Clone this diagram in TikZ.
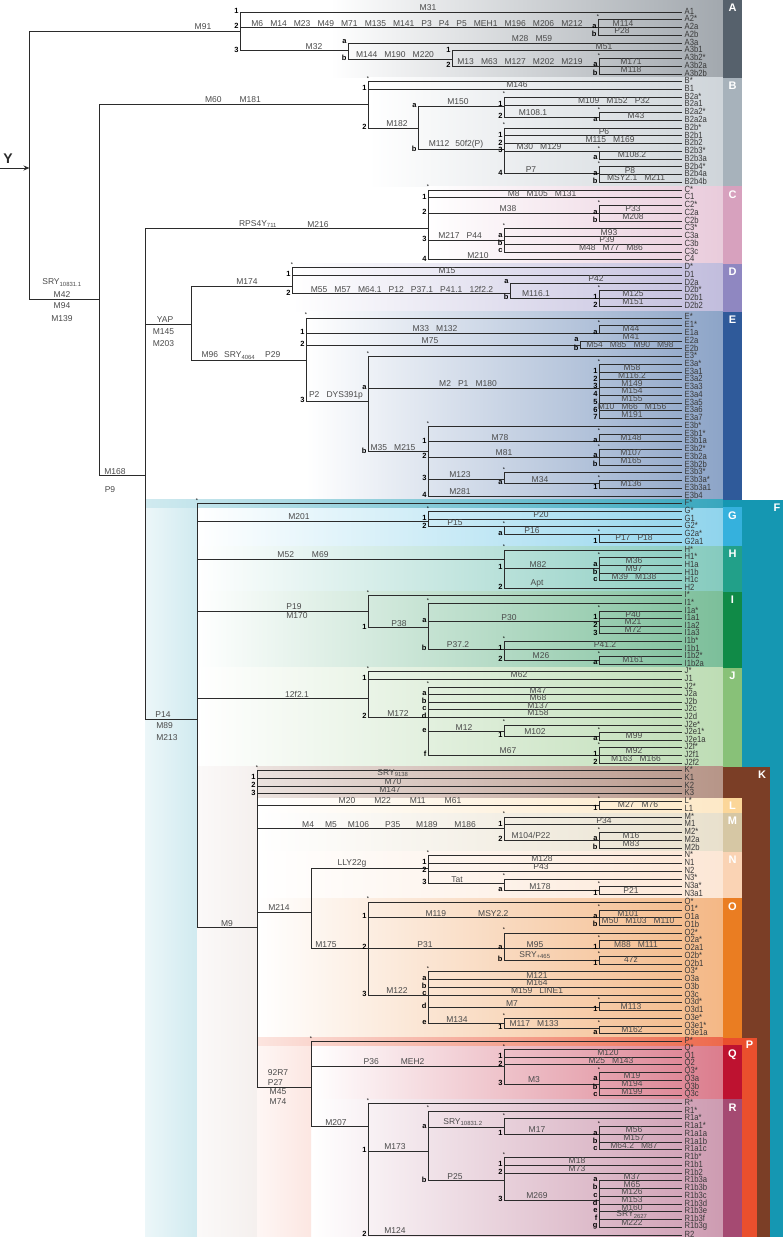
\documentclass[tikz,border=0pt]{standalone}
\usepackage{fontspec}
\setmainfont{Liberation Sans}
\newfontfamily\leaffont[FakeStretch=0.85]{Liberation Sans}
\newfontfamily\mutfont[WordSpace=3]{Liberation Sans}
\usepackage{tikz}
\usetikzlibrary{arrows.meta}
\definecolor{linegray}{HTML}{2B2B2B}
\definecolor{mutgray}{HTML}{4A4A4A}
\definecolor{leafgray}{HTML}{383838}
\definecolor{cladeA}{HTML}{56616C}
\definecolor{cladeB}{HTML}{A7B2BB}
\definecolor{cladeC}{HTML}{D7A1BE}
\definecolor{cladeD}{HTML}{8F87C1}
\definecolor{cladeE}{HTML}{2F5A9A}
\definecolor{cladeF}{HTML}{1597B2}
\definecolor{cladeG}{HTML}{35B1DD}
\definecolor{cladeH}{HTML}{22A089}
\definecolor{cladeI}{HTML}{108A47}
\definecolor{cladeJ}{HTML}{88C178}
\definecolor{cladeK}{HTML}{7B3E26}
\definecolor{cladeL}{HTML}{FBD699}
\definecolor{cladeM}{HTML}{D6C7A4}
\definecolor{cladeN}{HTML}{FAD3B4}
\definecolor{cladeO}{HTML}{EA7D22}
\definecolor{cladeP}{HTML}{EA4F2D}
\definecolor{cladeQ}{HTML}{BE1230}
\definecolor{cladeR}{HTML}{A54A72}

\tikzset{
  treeline/.style={draw=linegray, line width=0.7pt},
  leaf/.style={anchor=west, inner xsep=2.5pt, inner ysep=0pt, text=leafgray,
    font=\leaffont\fontsize{9}{9}\selectfont},
  mut/.style 2 args={pos=1, anchor=south, inner xsep=0pt, inner ysep=1pt, xshift=#1-#2,
    align=center, text=mutgray, font=\mutfont\fontsize{8.5}{10}\selectfont},
  mutb/.style 2 args={mut={#1}{#2}, anchor=north},
  ml/.style={mut={#1}{682}},
  num/.style={pos=0.5, anchor=east, inner xsep=1.2pt, inner ysep=0pt, yshift=1.2pt,
    font=\bfseries\fontsize{7.5}{8}\selectfont},
  astx/.style={pos=0.5, anchor=south, inner sep=0.3pt, yshift=0.5pt,
    font=\fontsize{5.5}{6}\selectfont},
  blockletter/.style={anchor=north, inner sep=0pt, text=white,
    font=\bfseries\fontsize{11}{11}\selectfont}
}
\newcommand{\cladeband}[4]{\shade[left color=white, right color=#1!55] (#2,{ly(#3)}) rectangle (723,{ly(#4)});}
\newcommand{\cladeblock}[4]{\fill[#1] (723,{ly(#2)}) rectangle (742,{ly(#3)});
  \node[blockletter] (b#4) at (732.5,{ly(#2)+4}) {#4};}

\begin{document}
\begin{tikzpicture}[x=1pt, y=-1pt,
    declare function={ly(\k)=12+7.74*\k+4*min(1,max(0,\k-38))-4*min(1,max(0,(\k-70)/28));}]
  \useasboundingbox (0,0) rectangle (783,1237);

  % colour bands behind the clades
  \cladeband{cladeA}{330}{-1.55}{8.5}
  \cladeband{cladeB}{368}{8.5}{22.5}
  \cladeband{cladeC}{428}{22.5}{32.5}
  \cladeband{cladeD}{292}{32.5}{38.5}
  \cladeband{cladeE}{306}{38.5}{62.5}
  \cladeband{cladeG}{197}{63.5}{68.5}
  \cladeband{cladeH}{197}{68.5}{74.5}
  \cladeband{cladeI}{197}{74.5}{84.5}
  \cladeband{cladeJ}{197}{84.5}{97.5}
  \cladeband{cladeL}{257}{101.5}{103.5}
  \cladeband{cladeM}{257}{103.5}{108.5}
  \cladeband{cladeN}{257}{108.5}{114.5}
  \cladeband{cladeO}{257}{114.5}{132.5}
  \cladeband{cladeQ}{311}{133.5}{140.5}
  \cladeband{cladeR}{311}{140.5}{158.27}
  \shade[left color=cladeF!8, right color=cladeF!20] (145,{ly(62.5)}) rectangle (197,1237);
  \shade[left color=cladeK!3, right color=cladeK!8] (197,{ly(97.5)}) rectangle (257,1237);
  \shade[left color=cladeP!5, right color=cladeP!14] (257,{ly(132.5)}) rectangle (311,1237);
  \shade[left color=cladeF!20, right color=cladeF!85] (145,{ly(62.5)}) rectangle (723,{ly(63.5)});
  \shade[left color=cladeK!15, right color=cladeK!55] (257,{ly(97.5)}) rectangle (723,{ly(101.5)});
  \shade[left color=cladeP!15, right color=cladeP!85] (257,{ly(132.5)}) rectangle (723,{ly(133.5)});

  % haplogroup blocks on the right
  \cladeblock{cladeA}{-1.55}{8.5}{A}
  \cladeblock{cladeB}{8.5}{22.5}{B}
  \cladeblock{cladeC}{22.5}{32.5}{C}
  \cladeblock{cladeD}{32.5}{38.5}{D}
  \cladeblock{cladeE}{38.5}{62.5}{E}
  \fill[cladeF] (723,{ly(62.5)}) rectangle (783,{ly(63.5)});
  \fill[cladeF] (742,{ly(62.5)}) rectangle (783,1237);
  \node[blockletter] (bF) at (777,{ly(62.5)+4}) {F};
  \cladeblock{cladeG}{63.5}{68.5}{G}
  \cladeblock{cladeH}{68.5}{74.5}{H}
  \cladeblock{cladeI}{74.5}{84.5}{I}
  \cladeblock{cladeJ}{84.5}{97.5}{J}
  \fill[cladeK] (723,{ly(97.5)}) rectangle (770,{ly(101.5)});
  \fill[cladeK] (742,{ly(97.5)}) rectangle (770,1237);
  \node[blockletter] (bK) at (762,{ly(97.5)+4}) {K};
  \cladeblock{cladeL}{101.5}{103.5}{L}
  \cladeblock{cladeM}{103.5}{108.5}{M}
  \cladeblock{cladeN}{108.5}{114.5}{N}
  \cladeblock{cladeO}{114.5}{132.5}{O}
  \fill[cladeP] (723,{ly(132.5)}) rectangle (757,{ly(133.5)});
  \fill[cladeP] (742,{ly(132.5)}) rectangle (757,1237);
  \node[blockletter] (bP) at (749.5,{ly(132.5)+3}) {P};
  \cladeblock{cladeQ}{133.5}{140.5}{Q}
  \cladeblock{cladeR}{140.5}{158.27}{R}

  % leaves
  \foreach \t [count=\i from 0] in {A1,A2*,A2a,A2b,A3a,A3b1,A3b2*,A3b2a,A3b2b,
      B*,B1,B2a*,B2a1,B2a2*,B2a2a,B2b*,B2b1,B2b2,B2b3*,B2b3a,B2b4*,B2b4a,B2b4b,
      C*,C1,C2*,C2a,C2b,C3*,C3a,C3b,C3c,C4,
      D*,D1,D2a,D2b*,D2b1,D2b2,
      E*,E1*,E1a,E2a,E2b,E3*,E3a*,E3a1,E3a2,E3a3,E3a4,E3a5,E3a6,E3a7,
      E3b*,E3b1*,E3b1a,E3b2*,E3b2a,E3b2b,E3b3*,E3b3a*,E3b3a1,E3b4,
      F*,G*,G1,G2*,G2a*,G2a1,H*,H1*,H1a,H1b,H1c,H2,
      I*,I1*,I1a*,I1a1,I1a2,I1a3,I1b*,I1b1,I1b2*,I1b2a,
      J*,J1,J2*,J2a,J2b,J2c,J2d,J2e*,J2e1*,J2e1a,J2f*,J2f1,J2f2,
      K*,K1,K2,K3,L*,L1,M*,M1,M2*,M2a,M2b,N*,N1,N2,N3*,N3a*,N3a1,
      O*,O1*,O1a,O1b,O2*,O2a*,O2a1,O2b*,O2b1,O3*,O3a,O3b,O3c,O3d*,O3d1,O3e*,O3e1*,O3e1a,
      P*,Q*,Q1,Q2,Q3*,Q3a,Q3b,Q3c,
      R*,R1*,R1a*,R1a1*,R1a1a,R1a1b,R1a1c,R1b*,R1b1,R1b2,
      R1b3a,R1b3b,R1b3c,R1b3d,R1b3e,R1b3f,R1b3g,R2}
  {
    \coordinate (L\i) at (682,{ly(\i)});
    \node[leaf] (t\i) at ([yshift=1pt]L\i) {\t};
  }

  % branching points
  \coordinate (root) at (29.5,168);
  \coordinate (ystart) at (0,168);
  \coordinate (nA) at (240,{ly(2.5)});
  \coordinate (nA2) at (598,{ly(2)});
  \coordinate (nA3) at (348,{ly(5)});
  \coordinate (nA3b) at (452,{ly(6.1)});
  \coordinate (nA3b2) at (599,{ly(7)});
  \coordinate (nBT) at (99.5,{ly(37.1)});
  \coordinate (nB) at (368,{ly(11.9)});
  \coordinate (nB2) at (418,{ly(15)});
  \coordinate (nB2a) at (504,{ly(12.2)});
  \coordinate (nB2a2) at (599,{ly(13.6)});
  \coordinate (nB2b) at (504,{ly(17.8)});
  \coordinate (nB2b3) at (599,{ly(18)});
  \coordinate (nB2b4) at (599,{ly(20.9)});
  \coordinate (nCT) at (145,{ly(59.4)});
  \coordinate (nC) at (428,{ly(28)});
  \coordinate (nC2) at (599,{ly(26)});
  \coordinate (nC3) at (504,{ly(29.5)});
  \coordinate (nDE) at (191.5,{ly(39.8)});
  \coordinate (nD) at (292,{ly(35.4)});
  \coordinate (nD2) at (510,{ly(36.4)});
  \coordinate (nD2b) at (599,{ly(37)});
  \coordinate (nE) at (306,{ly(44.5)});
  \coordinate (nE1) at (599,{ly(41)});
  \coordinate (nE2) at (580,{ly(42.5)});
  \coordinate (nE3) at (368,{ly(49.75)});
  \coordinate (nE3a) at (599,{ly(48.1)});
  \coordinate (nE3b) at (428,{ly(56.3)});
  \coordinate (nE3b1) at (599,{ly(55)});
  \coordinate (nE3b2) at (599,{ly(57)});
  \coordinate (nE3b3) at (504,{ly(59.8)});
  \coordinate (nE3b3a) at (599,{ly(60.4)});
  \coordinate (nF) at (197,{ly(91.2)});
  \coordinate (nG) at (428,{ly(65.3)});
  \coordinate (nG2) at (504,{ly(66)});
  \coordinate (nG2a) at (599,{ly(67)});
  \coordinate (nH) at (504,{ly(70.2)});
  \coordinate (nH1) at (599,{ly(71.4)});
  \coordinate (nI) at (368,{ly(77)});
  \coordinate (nI1) at (428,{ly(79.2)});
  \coordinate (nI1a) at (599,{ly(78.4)});
  \coordinate (nI1b) at (504,{ly(82)});
  \coordinate (nI1b2) at (599,{ly(83.5)});
  \coordinate (nJ) at (368,{ly(88.5)});
  \coordinate (nJ2) at (428,{ly(91)});
  \coordinate (nJ2e) at (504,{ly(92.9)});
  \coordinate (nJ2e1) at (599,{ly(93.5)});
  \coordinate (nJ2f) at (599,{ly(96)});
  \coordinate (nK) at (257,{ly(118.3)});
  \coordinate (nL) at (599,{ly(102.5)});
  \coordinate (nM) at (504,{ly(105.5)});
  \coordinate (nM2) at (599,{ly(107)});
  \coordinate (nNO) at (311,{ly(116.3)});
  \coordinate (nN) at (428,{ly(110.7)});
  \coordinate (nN3) at (504,{ly(112.6)});
  \coordinate (nN3a) at (599,{ly(113.5)});
  \coordinate (nO) at (368,{ly(121)});
  \coordinate (nO1) at (599,{ly(117)});
  \coordinate (nO2) at (504,{ly(121)});
  \coordinate (nO2a) at (599,{ly(121)});
  \coordinate (nO2b) at (599,{ly(122.5)});
  \coordinate (nO3) at (428,{ly(127)});
  \coordinate (nO3d) at (599,{ly(128.6)});
  \coordinate (nO3e) at (504,{ly(130.7)});
  \coordinate (nO3e1) at (599,{ly(131.3)});
  \coordinate (nP) at (311,{ly(138.9)});
  \coordinate (nQ) at (504,{ly(136.2)});
  \coordinate (nQ3) at (599,{ly(138.5)});
  \coordinate (nR) at (368,{ly(144)});
  \coordinate (nR1) at (428,{ly(147.2)});
  \coordinate (nR1a) at (504,{ly(144.1)});
  \coordinate (nR1a1) at (599,{ly(145)});
  \coordinate (nR1b) at (504,{ly(151)});
  \coordinate (nR1b3) at (599,{ly(153.5)});

  % root
  \node[text=linegray, font=\bfseries\fontsize{14}{14}\selectfont] (ylabel) at (8,159) {Y};
  \draw[-{Stealth[length=6pt,width=5pt]}, draw=linegray, line width=1pt] (ystart) -- (root);
  \draw[treeline] (root) |- node[mut={203}{240}]{M91} (nA);
  \draw[treeline] (root) |- node[mut={62}{99.5}]{SRY\textsubscript{10831.1}\\[3pt]M42}
    node[mutb={62}{99.5}, yshift=-2pt]{M94\\[3pt]M139} (nBT);

  % A
  \draw[treeline] (nA) |- node[num]{1} node[ml=428]{M31} (L0);
  \draw[treeline] (nA) |- node[num]{2} node[mut={417}{598}]{M6 M14 M23 M49 M71 M135 M141 P3 P4 P5 MEH1 M196 M206 M212} (nA2);
  \draw[treeline] (nA) |- node[num]{3} node[mut={314}{348}]{M32} (nA3);
  \draw[treeline] (nA2) |- node[astx]{*} (L1);
  \draw[treeline] (nA2) |- node[num]{a} node[ml=623]{M114} (L2);
  \draw[treeline] (nA2) |- node[num]{b} node[ml=622]{P28} (L3);
  \draw[treeline] (nA3) |- node[num]{a} node[ml=532]{M28 M59} (L4);
  \draw[treeline] (nA3) |- node[num]{b} node[mut={395}{452}]{M144 M190 M220} (nA3b);
  \draw[treeline] (nA3b) |- node[num]{1} node[ml=604]{M51} (L5);
  \draw[treeline] (nA3b) |- node[num]{2} node[mut={520}{599}]{M13 M63 M127 M202 M219} (nA3b2);
  \draw[treeline] (nA3b2) |- node[astx]{*} (L6);
  \draw[treeline] (nA3b2) |- node[num]{a} node[ml=631]{M171} (L7);
  \draw[treeline] (nA3b2) |- node[num]{b} node[ml=631]{M118} (L8);

  % BT
  \draw[treeline] (nBT) |- node[mut={233}{368}]{M60\hspace{18pt}M181} (nB);
  \draw[treeline] (nBT) |- node[mut={115}{145}]{M168} node[mutb={110}{145}, yshift=-9pt]{P9} (nCT);

  % B
  \draw[treeline] (nB) |- node[astx]{*} (L9);
  \draw[treeline] (nB) |- node[num]{1} node[ml=517]{M146} (L10);
  \draw[treeline] (nB) |- node[num]{2} node[mut={397}{418}]{M182} (nB2);
  \draw[treeline] (nB2) |- node[num]{a} node[mut={458}{504}]{M150} (nB2a);
  \draw[treeline] (nB2) |- node[num]{b} node[mut={456}{504}]{M112\hspace{6pt}50f2(P)} (nB2b);
  \draw[treeline] (nB2a) |- node[astx]{*} (L11);
  \draw[treeline] (nB2a) |- node[num]{1} node[ml=614]{M109 M152 P32} (L12);
  \draw[treeline] (nB2a) |- node[num]{2} node[mut={533}{599}]{M108.1} (nB2a2);
  \draw[treeline] (nB2a2) |- node[astx]{*} (L13);
  \draw[treeline] (nB2a2) |- node[num]{a} node[ml=636]{M43} (L14);
  \draw[treeline] (nB2b) |- node[astx]{*} (L15);
  \draw[treeline] (nB2b) |- node[num]{1} node[ml=604]{P6} (L16);
  \draw[treeline] (nB2b) |- node[num]{2} node[ml=610]{M115 M169} (L17);
  \draw[treeline] (nB2b) |- node[num]{3} node[mut={539}{599}]{M30 M129} (nB2b3);
  \draw[treeline] (nB2b) |- node[num]{4} node[mut={531}{599}]{P7} (nB2b4);
  \draw[treeline] (nB2b3) |- node[astx]{*} (L18);
  \draw[treeline] (nB2b3) |- node[num]{a} node[ml=632]{M108.2} (L19);
  \draw[treeline] (nB2b4) |- node[astx]{*} (L20);
  \draw[treeline] (nB2b4) |- node[num]{a} node[ml=630]{P8} (L21);
  \draw[treeline] (nB2b4) |- node[num]{b} node[ml=636]{MSY2.1 M211} (L22);

  % CT
  \draw[treeline] (nCT) |- node[mut={258}{428}]{RPS4Y\textsubscript{711}} node[mut={318}{428}]{M216} (nC);
  \draw[treeline] (nCT) |- node[mut={165}{191.5}]{YAP} node[mutb={163.5}{191.5}, yshift=-3pt]{M145\\[2pt]M203} (nDE);
  \draw[treeline] (nCT) |- node[mut={163}{197}]{P14} node[mutb={167}{197}, align=left, yshift=-2pt]{M89\\[2pt]M213} (nF);

  % C
  \draw[treeline] (nC) |- node[astx]{*} (L23);
  \draw[treeline] (nC) |- node[num]{1} node[ml=542]{M8 M105 M131} (L24);
  \draw[treeline] (nC) |- node[num]{2} node[mut={508}{599}]{M38} (nC2);
  \draw[treeline] (nC) |- node[num]{3} node[mut={460}{504}]{M217 P44} (nC3);
  \draw[treeline] (nC) |- node[num]{4} node[ml=478]{M210} (L32);
  \draw[treeline] (nC2) |- node[astx]{*} (L25);
  \draw[treeline] (nC2) |- node[num]{a} node[ml=633]{P33} (L26);
  \draw[treeline] (nC2) |- node[num]{b} node[ml=633]{M208} (L27);
  \draw[treeline] (nC3) |- node[astx]{*} (L28);
  \draw[treeline] (nC3) |- node[num]{a} node[ml=609]{M93} (L29);
  \draw[treeline] (nC3) |- node[num]{b} node[ml=607]{P39} (L30);
  \draw[treeline] (nC3) |- node[num]{c} node[ml=611]{M48 M77 M86} (L31);

  % DE
  \draw[treeline] (nDE) |- node[mut={247}{292}]{M174} (nD);
  \draw[treeline] (nDE) |- node[mut={241}{306}]{M96\hspace{6pt}SRY\textsubscript{4064}\hspace{10pt}P29} (nE);

  % D
  \draw[treeline] (nD) |- node[astx]{*} (L33);
  \draw[treeline] (nD) |- node[num]{1} node[ml=447]{M15} (L34);
  \draw[treeline] (nD) |- node[num]{2} node[mut={402}{510}]{M55 M57 M64.1 P12 P37.1 P41.1 12f2.2} (nD2);
  \draw[treeline] (nD2) |- node[num]{a} node[ml=596]{P42} (L35);
  \draw[treeline] (nD2) |- node[num]{b} node[mut={536}{599}]{M116.1} (nD2b);
  \draw[treeline] (nD2b) |- node[astx]{*} (L36);
  \draw[treeline] (nD2b) |- node[num]{1} node[ml=633]{M125} (L37);
  \draw[treeline] (nD2b) |- node[num]{2} node[ml=633]{M151} (L38);

  % E
  \draw[treeline] (nE) |- node[astx]{*} (L39);
  \draw[treeline] (nE) |- node[num]{1} node[mut={435}{599}]{M33 M132} (nE1);
  \draw[treeline] (nE) |- node[num]{2} node[mut={430}{580}]{M75} (nE2);
  \draw[treeline] (nE) |- node[num]{3} node[mut={336}{368}]{P2 DYS391p} (nE3);
  \draw[treeline] (nE1) |- node[astx]{*} (L40);
  \draw[treeline] (nE1) |- node[num]{a} node[ml=631]{M44} (L41);
  \draw[treeline] (nE2) |- node[num]{a} node[ml=631]{M41} (L42);
  \draw[treeline] (nE2) |- node[num]{b} node[ml=630]{M54 M85 M90 M98} (L43);
  \draw[treeline] (nE3) |- node[astx]{*} (L44);
  \draw[treeline] (nE3) |- node[num]{a} node[mut={468}{599}]{M2 P1 M180} (nE3a);
  \draw[treeline] (nE3) |- node[num]{b} node[mut={393}{428}]{M35 M215} (nE3b);
  \draw[treeline] (nE3a) |- node[astx]{*} (L45);
  \foreach \k/\m [count=\j from 46] in {1/M58, 2/M116.2, 3/M149, 4/M154, 5/M155, 6/M10 M66 M156, 7/M191}
    \draw[treeline] (nE3a) |- node[num]{\k} node[ml=632]{\m} (L\j);
  \draw[treeline] (nE3b) |- node[astx]{*} (L53);
  \draw[treeline] (nE3b) |- node[num]{1} node[mut={500}{599}]{M78} (nE3b1);
  \draw[treeline] (nE3b) |- node[num]{2} node[mut={504}{599}]{M81} (nE3b2);
  \draw[treeline] (nE3b) |- node[num]{3} node[mut={460}{504}]{M123} (nE3b3);
  \draw[treeline] (nE3b) |- node[num]{4} node[ml=460]{M281} (L62);
  \draw[treeline] (nE3b1) |- node[astx]{*} (L54);
  \draw[treeline] (nE3b1) |- node[num]{a} node[ml=631]{M148} (L55);
  \draw[treeline] (nE3b2) |- node[astx]{*} (L56);
  \draw[treeline] (nE3b2) |- node[num]{a} node[ml=631]{M107} (L57);
  \draw[treeline] (nE3b2) |- node[num]{b} node[ml=631]{M165} (L58);
  \draw[treeline] (nE3b3) |- node[astx]{*} (L59);
  \draw[treeline] (nE3b3) |- node[num]{a} node[mut={540}{599}]{M34} (nE3b3a);
  \draw[treeline] (nE3b3a) |- node[astx]{*} (L60);
  \draw[treeline] (nE3b3a) |- node[num]{1} node[ml=631]{M136} (L61);

  % F
  \draw[treeline] (nF) |- node[astx]{*} (L63);
  \draw[treeline] (nF) |- node[mut={299}{428}]{M201} (nG);
  \draw[treeline] (nF) |- node[mut={303}{504}]{M52\hspace{18pt}M69} (nH);
  \draw[treeline] (nF) |- node[mut={294}{368}]{P19} node[mutb={297}{368}]{M170} (nI);
  \draw[treeline] (nF) |- node[mut={297}{368}]{12f2.1} (nJ);
  \draw[treeline] (nF) |- node[mut={227}{257}]{M9} (nK);

  % G
  \draw[treeline] (nG) |- node[astx]{*} (L64);
  \draw[treeline] (nG) |- node[num]{1} node[ml=541]{P20} (L65);
  \draw[treeline] (nG) |- node[num]{2} node[mut={455}{504}]{P15} (nG2);
  \draw[treeline] (nG2) |- node[astx]{*} (L66);
  \draw[treeline] (nG2) |- node[num]{a} node[mut={532}{599}]{P16} (nG2a);
  \draw[treeline] (nG2a) |- node[astx]{*} (L67);
  \draw[treeline] (nG2a) |- node[num]{1} node[ml=634]{P17 P18} (L68);

  % H
  \draw[treeline] (nH) |- node[astx]{*} (L69);
  \draw[treeline] (nH) |- node[num]{1} node[mut={538}{599}]{M82} (nH1);
  \draw[treeline] (nH) |- node[num]{2} node[ml=537]{Apt} (L74);
  \draw[treeline] (nH1) |- node[astx]{*} (L70);
  \foreach \k/\m [count=\j from 71] in {a/M36, b/M97, c/M39 M138}
    \draw[treeline] (nH1) |- node[num]{\k} node[ml=634]{\m} (L\j);

  % I
  \draw[treeline] (nI) |- node[astx]{*} (L75);
  \draw[treeline] (nI) |- node[num]{1} node[mut={399}{428}]{P38} (nI1);
  \draw[treeline] (nI1) |- node[astx]{*} (L76);
  \draw[treeline] (nI1) |- node[num]{a} node[mut={509}{599}]{P30} (nI1a);
  \draw[treeline] (nI1) |- node[num]{b} node[mut={458}{504}]{P37.2} (nI1b);
  \draw[treeline] (nI1a) |- node[astx]{*} (L77);
  \foreach \k/\m [count=\j from 78] in {1/P40, 2/M21, 3/M72}
    \draw[treeline] (nI1a) |- node[num]{\k} node[ml=633]{\m} (L\j);
  \draw[treeline] (nI1b) |- node[astx]{*} (L81);
  \draw[treeline] (nI1b) |- node[num]{1} node[ml=605]{P41.2} (L82);
  \draw[treeline] (nI1b) |- node[num]{2} node[mut={541}{599}]{M26} (nI1b2);
  \draw[treeline] (nI1b2) |- node[astx]{*} (L83);
  \draw[treeline] (nI1b2) |- node[num]{a} node[ml=633]{M161} (L84);

  % J
  \draw[treeline] (nJ) |- node[astx]{*} (L85);
  \draw[treeline] (nJ) |- node[num]{1} node[ml=519]{M62} (L86);
  \draw[treeline] (nJ) |- node[num]{2} node[mut={398}{428}]{M172} (nJ2);
  \draw[treeline] (nJ2) |- node[astx]{*} (L87);
  \foreach \k/\m [count=\j from 88] in {a/M47, b/M68, c/M137, d/M158}
    \draw[treeline] (nJ2) |- node[num]{\k} node[ml=538]{\m} (L\j);
  \draw[treeline] (nJ2) |- node[num]{e} node[mut={464}{504}]{M12} (nJ2e);
  \draw[treeline] (nJ2) |- node[num]{f} node[mut={508}{599}]{M67} (nJ2f);
  \draw[treeline] (nJ2e) |- node[astx]{*} (L92);
  \draw[treeline] (nJ2e) |- node[num]{1} node[mut={535}{599}]{M102} (nJ2e1);
  \draw[treeline] (nJ2e1) |- node[astx]{*} (L93);
  \draw[treeline] (nJ2e1) |- node[num]{a} node[ml=634]{M99} (L94);
  \draw[treeline] (nJ2f) |- node[astx]{*} (L95);
  \draw[treeline] (nJ2f) |- node[num]{1} node[ml=634]{M92} (L96);
  \draw[treeline] (nJ2f) |- node[num]{2} node[ml=636]{M163 M166} (L97);

  % K to R
  \draw[treeline] (nK) |- node[astx]{*} (L98);
  \draw[treeline] (nK) |- node[num]{1} node[ml=393]{SRY\textsubscript{9138}} (L99);
  \draw[treeline] (nK) |- node[num]{2} node[ml=393]{M70} (L100);
  \draw[treeline] (nK) |- node[num]{3} node[ml=390]{M147} (L101);
  \draw[treeline] (nK) |- node[mut={400}{599}]{M20\hspace{19pt}M22\hspace{19pt}M11\hspace{19pt}M61} (nL);
  \draw[treeline] (nK) |- node[mut={389}{504}]{M4\hspace{11pt}M5\hspace{11pt}M106\hspace{16pt}P35\hspace{16pt}M189\hspace{17pt}M186} (nM);
  \draw[treeline] (nK) |- node[mut={279}{311}]{M214} (nNO);
  \draw[treeline] (nK) |- node[mut={278}{311}, align=left]{92R7\\P27} node[mutb={278}{311}, align=left]{M45\\M74} (nP);

  % L and M
  \draw[treeline] (nL) |- node[astx]{*} (L102);
  \draw[treeline] (nL) |- node[num]{1} node[ml=638]{M27 M76} (L103);
  \draw[treeline] (nM) |- node[astx]{*} (L104);
  \draw[treeline] (nM) |- node[num]{1} node[ml=604]{P34} (L105);
  \draw[treeline] (nM) |- node[num]{2} node[mut={531}{599}]{M104/P22} (nM2);
  \draw[treeline] (nM2) |- node[astx]{*} (L106);
  \draw[treeline] (nM2) |- node[num]{a} node[ml=631]{M16} (L107);
  \draw[treeline] (nM2) |- node[num]{b} node[ml=631]{M83} (L108);

  % N and O
  \draw[treeline] (nNO) |- node[mut={352}{428}]{LLY22g} (nN);
  \draw[treeline] (nNO) |- node[mut={326}{368}]{M175} (nO);
  \draw[treeline] (nN) |- node[astx]{*} (L109);
  \draw[treeline] (nN) |- node[num]{1} node[ml=542]{M128} (L110);
  \draw[treeline] (nN) |- node[num]{2} node[ml=541]{P43} (L111);
  \draw[treeline] (nN) |- node[num]{3} node[mut={457}{504}]{Tat} (nN3);
  \draw[treeline] (nN3) |- node[astx]{*} (L112);
  \draw[treeline] (nN3) |- node[num]{a} node[mut={540}{599}]{M178} (nN3a);
  \draw[treeline] (nN3a) |- node[astx]{*} (L113);
  \draw[treeline] (nN3a) |- node[num]{1} node[ml=631]{P21} (L114);
  \draw[treeline] (nO) |- node[astx]{*} (L115);
  \draw[treeline] (nO) |- node[num]{1} node[mut={467}{599}]{M119\hspace{32pt}MSY2.2} (nO1);
  \draw[treeline] (nO) |- node[num]{2} node[mut={425}{504}]{P31} (nO2);
  \draw[treeline] (nO) |- node[num]{3} node[mut={397}{428}]{M122} (nO3);
  \draw[treeline] (nO1) |- node[astx]{*} (L116);
  \draw[treeline] (nO1) |- node[num]{a} node[ml=628]{M101} (L117);
  \draw[treeline] (nO1) |- node[num]{b} node[ml=638]{M50 M103 M110} (L118);
  \draw[treeline] (nO2) |- node[astx]{*} (L119);
  \draw[treeline] (nO2) |- node[num]{a} node[mut={535}{599}]{M95} (nO2a);
  \draw[treeline] (nO2) |- node[num]{b} node[mut={535}{599}]{SRY\textsubscript{+465}} (nO2b);
  \draw[treeline] (nO2a) |- node[astx]{*} (L120);
  \draw[treeline] (nO2a) |- node[num]{1} node[ml=636]{M88 M111} (L121);
  \draw[treeline] (nO2b) |- node[astx]{*} (L122);
  \draw[treeline] (nO2b) |- node[num]{1} node[ml=631]{47z} (L123);
  \draw[treeline] (nO3) |- node[astx]{*} (L124);
  \foreach \k/\m [count=\j from 125] in {a/M121, b/M164, c/M159 LINE1}
    \draw[treeline] (nO3) |- node[num]{\k} node[ml=537]{\m} (L\j);
  \draw[treeline] (nO3) |- node[num]{d} node[mut={512}{599}]{M7} (nO3d);
  \draw[treeline] (nO3) |- node[num]{e} node[mut={457}{504}]{M134} (nO3e);
  \draw[treeline] (nO3d) |- node[astx]{*} (L128);
  \draw[treeline] (nO3d) |- node[num]{1} node[ml=631]{M113} (L129);
  \draw[treeline] (nO3e) |- node[astx]{*} (L130);
  \draw[treeline] (nO3e) |- node[num]{1} node[mut={534}{599}]{M117 M133} (nO3e1);
  \draw[treeline] (nO3e1) |- node[astx]{*} (L131);
  \draw[treeline] (nO3e1) |- node[num]{a} node[ml=632]{M162} (L132);

  % P, Q and R
  \draw[treeline] (nP) |- node[astx]{*} (L133);
  \draw[treeline] (nP) |- node[mut={394}{504}]{P36\hspace{22pt}MEH2} (nQ);
  \draw[treeline] (nP) |- node[mut={336}{368}]{M207} (nR);
  \draw[treeline] (nQ) |- node[astx]{*} (L134);
  \draw[treeline] (nQ) |- node[num]{1} node[ml=608]{M120} (L135);
  \draw[treeline] (nQ) |- node[num]{2} node[ml=611]{M25 M143} (L136);
  \draw[treeline] (nQ) |- node[num]{3} node[mut={534}{599}]{M3} (nQ3);
  \draw[treeline] (nQ3) |- node[astx]{*} (L137);
  \foreach \k/\m [count=\j from 138] in {a/M19, b/M194, c/M199}
    \draw[treeline] (nQ3) |- node[num]{\k} node[ml=632]{\m} (L\j);
  \draw[treeline] (nR) |- node[astx]{*} (L141);
  \draw[treeline] (nR) |- node[num]{1} node[mut={395}{428}]{M173} (nR1);
  \draw[treeline] (nR) |- node[num]{2} node[ml=395]{M124} (L158);
  \draw[treeline] (nR1) |- node[astx]{*} (L142);
  \draw[treeline] (nR1) |- node[num]{a} node[mut={463}{504}]{SRY\textsubscript{10831.2}} (nR1a);
  \draw[treeline] (nR1) |- node[num]{b} node[mut={455}{504}]{P25} (nR1b);
  \draw[treeline] (nR1a) |- node[astx]{*} (L143);
  \draw[treeline] (nR1a) |- node[num]{1} node[mut={537}{599}]{M17} (nR1a1);
  \draw[treeline] (nR1a1) |- node[astx]{*} (L144);
  \foreach \k/\m [count=\j from 145] in {a/M56, b/M157, c/M64.2 M87}
    \draw[treeline] (nR1a1) |- node[num]{\k} node[ml=634]{\m} (L\j);
  \draw[treeline] (nR1b) |- node[astx]{*} (L148);
  \draw[treeline] (nR1b) |- node[num]{1} node[ml=577]{M18} (L149);
  \draw[treeline] (nR1b) |- node[num]{2} node[ml=577]{M73} (L150);
  \draw[treeline] (nR1b) |- node[num]{3} node[mut={537}{599}]{M269} (nR1b3);
  \foreach \k/\m [count=\j from 151] in {a/M37, b/M65, c/M126, d/M153, e/M160, f/SRY\textsubscript{2627}, g/M222}
    \draw[treeline] (nR1b3) |- node[num]{\k} node[ml=632]{\m} (L\j);
\end{tikzpicture}
\end{document}
